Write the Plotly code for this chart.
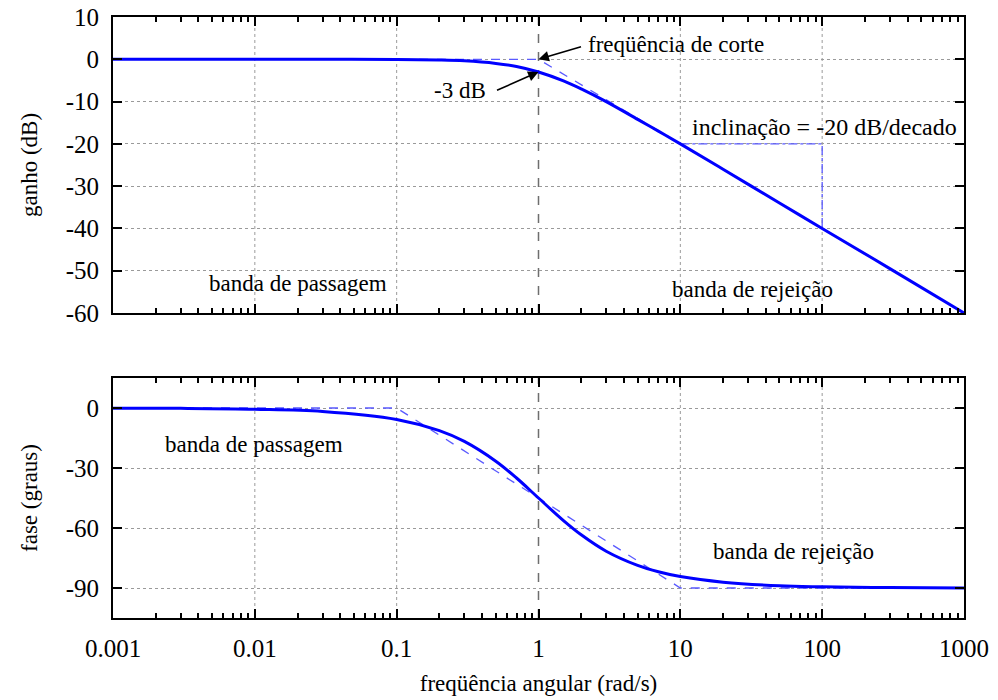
import plotly.graph_objects as go

# ---- data ----
freq = [0.001, 0.003, 0.01, 0.03, 0.1, 0.2, 0.3, 0.5, 0.7, 1.0, 1.5, 2.0, 3.0, 5.0, 7.0,
        10.0, 20.0, 50.0, 100.0, 300.0, 1000.0]
gain_db = [0.0, 0.0, 0.0, 0.0, -0.04, -0.17, -0.37, -0.97, -1.7, -3.0, -5.1, -7.0, -10.0,
           -14.2, -17.0, -20.0, -26.0, -34.0, -40.0, -49.5, -60.0]
phase_deg = [-0.06, -0.17, -0.6, -1.7, -5.7, -11.3, -16.7, -26.6, -35.0, -45.0, -56.3, -63.4,
             -71.6, -78.7, -81.9, -84.3, -87.1, -88.9, -89.4, -89.8, -90.0]

gain_asym_f = [0.001, 1.0, 1000.0]
gain_asym_db = [0.0, 0.0, -60.0]
phase_asym_f = [0.001, 0.1, 10.0, 1000.0]
phase_asym_deg = [0.0, 0.0, -90.0, -90.0]
slope_f = [10.0, 100.0, 100.0]
slope_db = [-20.0, -20.0, -40.0]

cutoff_freq = 1.0
x_ticks = [0.001, 0.01, 0.1, 1, 10, 100, 1000]
x_ticklabels = ["0.001", "0.01", "0.1", "1", "10", "100", "1000"]
gain_ticks = [10, 0, -10, -20, -30, -40, -50, -60]
gain_ticklabels = ["10", "0", "-10", "-20", "-30", "-40", "-50", "-60"]
phase_ticks = [0, -30, -60, -90]
phase_ticklabels = ["0", "-30", "-60", "-90"]

FONT = "Liberation Serif"
BLUE = "#0000ff"
ASYM = "#5a5aff"
GRID = "#9a9a9a"

fig = go.Figure()
fig.add_trace(go.Scatter(x=gain_asym_f, y=gain_asym_db, mode="lines",
                         line=dict(color=ASYM, width=1.3, dash="dash"), xaxis="x", yaxis="y"))
fig.add_trace(go.Scatter(x=slope_f, y=slope_db, mode="lines",
                         line=dict(color=ASYM, width=1.3, dash="dashdot"), xaxis="x", yaxis="y"))
fig.add_trace(go.Scatter(x=freq, y=gain_db, mode="lines", line_shape="spline",
                         line=dict(color=BLUE, width=3), xaxis="x", yaxis="y"))
fig.add_trace(go.Scatter(x=phase_asym_f, y=phase_asym_deg, mode="lines",
                         line=dict(color=ASYM, width=1.3, dash="dash"), xaxis="x2", yaxis="y2"))
fig.add_trace(go.Scatter(x=freq, y=phase_deg, mode="lines", line_shape="spline",
                         line=dict(color=BLUE, width=3), xaxis="x2", yaxis="y2"))

minor_vals = [m * d for d in [0.001, 0.01, 0.1, 1, 10, 100] for m in range(2, 10)]
common_x = dict(type="log", range=[-3, 3], showgrid=False,
                showline=True, linecolor="black", linewidth=2, mirror="ticks",
                ticks="inside", ticklen=9, tickwidth=2, tickcolor="black",
                tickvals=x_ticks, ticktext=x_ticklabels, automargin=False,
                minor=dict(ticks="inside", ticklen=5, tickwidth=2, tickcolor="black",
                           tickvals=minor_vals, showgrid=False),
                tickfont=dict(family=FONT, size=25, color="black"), zeroline=False)
common_y = dict(showgrid=True, gridcolor=GRID, griddash="dot", gridwidth=1,
                showline=True, linecolor="black", linewidth=2, mirror="ticks",
                ticks="inside", ticklen=9, tickwidth=2, tickcolor="black", automargin=False,
                tickfont=dict(family=FONT, size=25, color="black"), zeroline=False,
                ticklabelstandoff=7)

fig.update_layout(
    template="none",
    width=998, height=700,
    margin=dict(l=113, r=34, t=17, b=82),
    plot_bgcolor="white", paper_bgcolor="white",
    showlegend=False,
    font=dict(family=FONT, size=22, color="black"),
    xaxis=dict(common_x, domain=[0, 1], anchor="y", showticklabels=False),
    yaxis=dict(common_y, domain=[0.5075, 1], range=[-60, 10], tickvals=gain_ticks,
               ticktext=gain_ticklabels,
               title=dict(text="ganho (dB)", font=dict(family=FONT, size=23), standoff=22)),
    xaxis2=dict(common_x, domain=[0, 1], anchor="y2", ticklabelstandoff=7,
                title=dict(text="freqüência angular (rad/s)", font=dict(family=FONT, size=23),
                           standoff=14)),
    yaxis2=dict(common_y, domain=[0, 0.3993], range=[-105, 15], tickvals=phase_ticks,
                ticktext=phase_ticklabels,
                title=dict(text="fase (graus)", font=dict(family=FONT, size=23), standoff=22)),
)

# vertical grid lines at the decades (dotted) and a dashed marker at the cut-off frequency
for xr, yr in [("x", "y domain"), ("x2", "y2 domain")]:
    for xv in x_ticks[1:-1]:
        if xv == cutoff_freq:
            fig.add_shape(type="line", xref=xr, yref=yr, x0=xv, x1=xv, y0=0, y1=1,
                          line=dict(color="#6e6e6e", width=1.5, dash="dash"), layer="below")
        else:
            fig.add_shape(type="line", xref=xr, yref=yr, x0=xv, x1=xv, y0=0, y1=1,
                          line=dict(color=GRID, width=1, dash="dot"), layer="below")

ann_font = dict(family=FONT, size=23, color="black")
fig.add_annotation(x=0.336, y=3.6, xref="x", yref="y", text="freqüência de corte",
                   showarrow=False, xanchor="left", font=ann_font)
fig.add_annotation(x=0, y=0, xref="x", yref="y", text="", showarrow=True,
                   ax=44, ay=-13, arrowhead=2, arrowsize=1.3, arrowwidth=1.6, arrowcolor="black")
fig.add_annotation(x=-0.553, y=-7.4, xref="x", yref="y", text="-3 dB",
                   showarrow=False, font=ann_font)
fig.add_annotation(x=0, y=-3, xref="x", yref="y", text="", showarrow=True,
                   ax=-43, ay=19, arrowhead=2, arrowsize=1.3, arrowwidth=1.6, arrowcolor="black")
fig.add_annotation(x=1.07, y=-16.0, xref="x", yref="y", text="inclinação = -20 dB/decado",
                   showarrow=False, xanchor="left", font=dict(family=FONT, size=24, color="black"))
fig.add_annotation(x=-1.695, y=-53.0, xref="x", yref="y", text="banda de passagem",
                   showarrow=False, font=ann_font)
fig.add_annotation(x=1.506, y=-54.4, xref="x", yref="y", text="banda de rejeição",
                   showarrow=False, font=ann_font)
fig.add_annotation(x=-2.006, y=-18.0, xref="x2", yref="y2", text="banda de passagem",
                   showarrow=False, font=ann_font)
fig.add_annotation(x=1.795, y=-71.5, xref="x2", yref="y2", text="banda de rejeição",
                   showarrow=False, font=ann_font)

fig.write_html("out.html")
